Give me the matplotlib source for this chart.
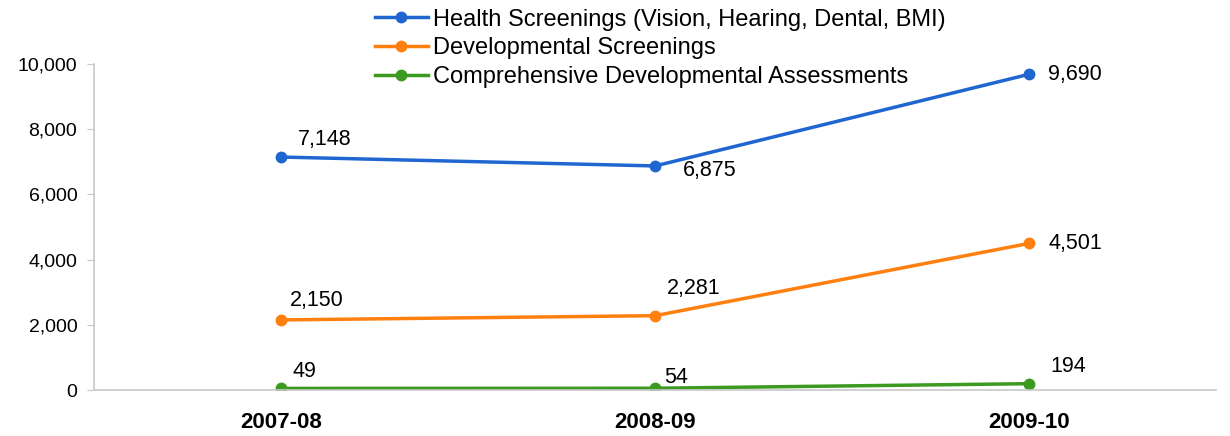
import matplotlib
matplotlib.use("Agg")
import matplotlib.pyplot as plt
from matplotlib.ticker import FuncFormatter

plt.rcParams["font.family"] = ["Liberation Sans", "DejaVu Sans"]

# ---- data ----
years = ["2007-08", "2008-09", "2009-10"]
health = [7148, 6875, 9690]
developmental = [2150, 2281, 4501]
comprehensive = [49, 54, 194]

series_names = [
    "Health Screenings (Vision, Hearing, Dental, BMI)",
    "Developmental Screenings",
    "Comprehensive Developmental Assessments",
]
colors = ["#1f66d1", "#ff7f0f", "#3c9a21"]

# label offsets in pixels (dx, dy)
label_offsets = [
    [(17, 18), (28, -5), (19, 0)],
    [(9, 19), (12, 27), (19, 0)],
    [(11, 17), (9, 11), (21, 17)],
]

fig = plt.figure(figsize=(12.3, 4.36), dpi=100)
ax = fig.add_axes([0.0764, 0.1055, 0.9126, 0.7475])

x = range(len(years))
for name, vals, col, offs in zip(series_names, [health, developmental, comprehensive],
                                 colors, label_offsets):
    ax.plot(x, vals, color=col, lw=2.5, marker="o", ms=7.5, label=name)
    for xi, v, (dx, dy) in zip(x, vals, offs):
        ax.annotate(f"{v:,}", (xi, v), xytext=(dx, dy), textcoords="offset pixels",
                    ha="left", va="center", fontsize=15.5, color="black")

ax.set_xlim(-0.5, 2.5)
ax.set_ylim(0, 10000)
ax.set_yticks(range(0, 10001, 2000))
ax.yaxis.set_major_formatter(FuncFormatter(lambda v, p: f"{int(v):,}"))
ax.set_xticks(list(x))
ax.set_xticklabels(years, fontsize=16, fontweight="bold")
ax.tick_params(axis="x", length=0, pad=16)
ax.tick_params(axis="y", labelsize=14, length=5, color="#c8c8c8", pad=7)

for s in ["top", "right"]:
    ax.spines[s].set_visible(False)
for s in ["left", "bottom"]:
    ax.spines[s].set_color("#c8c8c8")
    ax.spines[s].set_linewidth(1.2)

ax.legend(loc="upper left", bbox_to_anchor=(370 / 1230, 1 - 4 / 436),
          bbox_transform=fig.transFigure,
          frameon=False, fontsize=17, handlelength=2.25, handletextpad=0.2,
          labelspacing=0.28, borderaxespad=0.1, borderpad=0.1)

fig.savefig("out.png", dpi=100)
